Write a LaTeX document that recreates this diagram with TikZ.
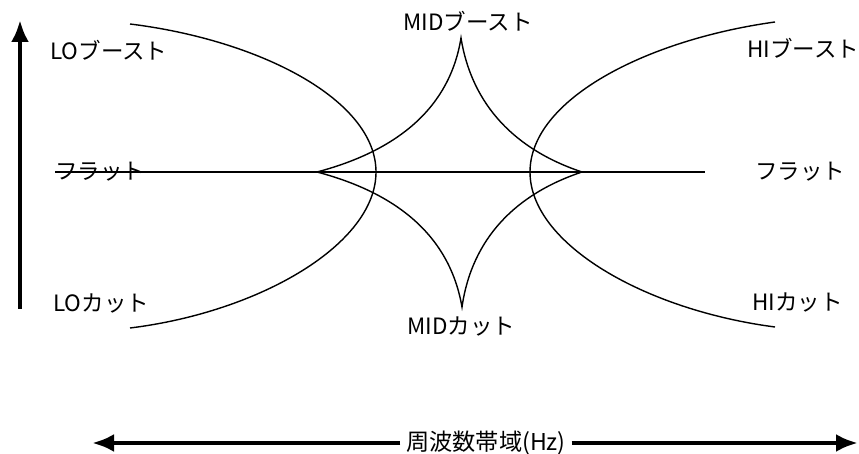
\documentclass[tikz,border=0pt]{standalone}
\usepackage{fontspec}
\setmainfont{Noto Sans CJK JP}
\usepackage{tikz}
\usetikzlibrary{positioning, arrows.meta}

\begin{document}
\begin{tikzpicture}[every node/.style={inner sep=0pt, font=\fontsize{16}{19}\selectfont},
    curve/.style={line width=1pt},
    axis/.style={line width=3.2pt, -{Latex[length=5.5mm, width=4.5mm]}}]
        \useasboundingbox (0,0) rectangle (21.475,11.35);

        % labels
        \node[anchor=west] (loB) at (1.25, 10.1) {LOブースト};
        \node[anchor=west] (flatL) at (1.375, 7.05) {フラット};
        \node[anchor=west] (loC) at (1.325, 3.775) {LOカット};
        \node (midB) at (11.7, 10.825) {MIDブースト};
        \node (midC) at (11.53, 3.2) {MIDカット};
        \node[anchor=west] (hiB) at (18.675, 10.15) {HIブースト};
        \node[anchor=west] (flatR) at (18.875, 7.05) {フラット};
        \node[anchor=west] (hiC) at (18.8, 3.8) {HIカット};
        \node[font=\fontsize{16.5}{19}\selectfont, inner sep=4pt] (freq) at (12.15, 0.275) {周波数帯域(Hz)};

        % axes
        \coordinate (upB) at (0.5, 3.625);
        \coordinate (upT) at (0.5, 10.85);
        \coordinate (leftT) at (2.3, 0.275);
        \coordinate (rightT) at (21.45, 0.275);
        \draw[axis] (upB) -- (upT);
        \draw[axis] (freq.west) -- (leftT);
        \draw[axis] (freq.east) -- (rightT);

        % flat line
        \coordinate (flatE) at (17.625, 7.05);
        \draw[curve] (flatL.west) -- (flatE);

        % LO shelf
        \draw[curve] (3.25, 10.75) .. controls (6.5, 10.35) and (9.4, 8.85) .. (9.4, 7.05)
                     .. controls (9.4, 5.25) and (6.5, 3.55) .. (3.25, 3.15);
        % HI shelf
        \draw[curve] (19.375, 10.8) .. controls (16.125, 10.35) and (13.25, 8.85) .. (13.25, 7.05)
                     .. controls (13.25, 5.25) and (16.125, 3.6) .. (19.375, 3.175);

        % MID peak / dip
        \coordinate (pL) at (7.925, 7.05);
        \coordinate (pT) at (11.525, 10.4);
        \coordinate (pR) at (14.55, 7.05);
        \coordinate (pB) at (11.55, 3.675);
        \draw[curve] (pL) .. controls (10.0, 7.6) and (11.25, 8.7) .. (pT)
                     .. controls (11.8, 8.7) and (12.9, 7.6) .. (pR)
                     .. controls (12.9, 6.5) and (11.8, 5.4) .. (pB)
                     .. controls (11.25, 5.4) and (10.0, 6.5) .. (pL);
    \end{tikzpicture}
\end{document}
